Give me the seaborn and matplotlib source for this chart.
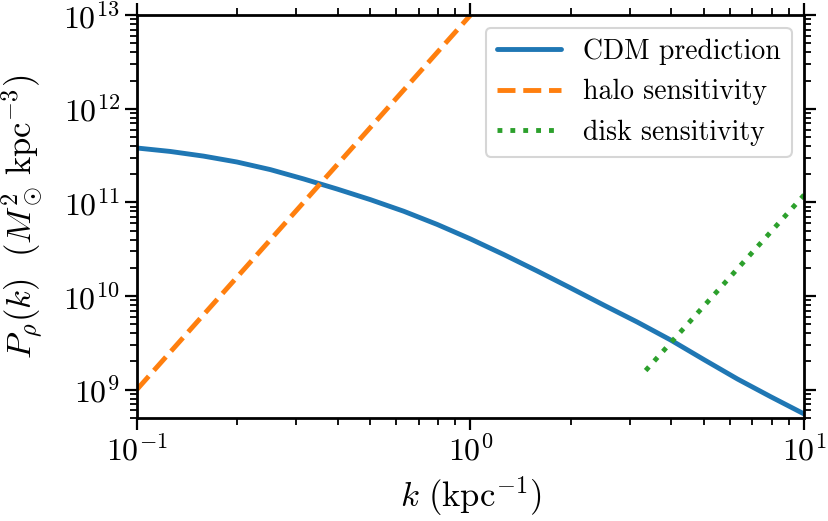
import numpy as np
import pandas as pd
import matplotlib
matplotlib.use('Agg')
import matplotlib.pyplot as plt
import seaborn as sns

# CDM prediction
cdm_k = [0.1, 0.1259, 0.1585, 0.1995, 0.2512, 0.3162, 0.3981, 0.5012,
         0.631, 0.7943, 1.0, 1.259, 1.585, 1.995, 2.512, 3.162, 3.981,
         5.012, 6.31, 7.943, 10.0]
cdm_p = [3.81e11, 3.50e11, 3.12e11, 2.70e11, 2.24e11, 1.78e11, 1.39e11,
         1.07e11, 8.04e10, 5.82e10, 4.07e10, 2.77e10, 1.85e10, 1.22e10,
         7.98e9, 5.27e9, 3.39e9, 2.09e9, 1.30e9, 8.4e8, 5.5e8]

# sensitivity curves (straight lines in log-log)
halo_k = [0.1, 1.0]
halo_p = [1.0e9, 1.0e13]
disk_k = [3.35, 10.0]
disk_p = [1.6e9, 1.2e11]

sns.set_style('ticks')
plt.rcParams['font.family'] = 'serif'
plt.rcParams['font.serif'] = ['cmr10', 'DejaVu Serif']
plt.rcParams['mathtext.fontset'] = 'cm'
plt.rcParams['axes.formatter.use_mathtext'] = True
plt.rcParams['axes.unicode_minus'] = False
for key in ['text.color', 'axes.labelcolor', 'xtick.color', 'ytick.color',
            'axes.edgecolor']:
    plt.rcParams[key] = 'black'

fig = plt.figure(figsize=(8.29, 5.21), dpi=100)
ax = fig.add_axes([0.165, 0.198, 0.805, 0.773])

colors = sns.color_palette('tab10')
sns.lineplot(data=pd.DataFrame({'k': cdm_k, 'p': cdm_p}), x='k', y='p', ax=ax,
             color=colors[0], lw=3.5, label='CDM prediction')
sns.lineplot(data=pd.DataFrame({'k': halo_k, 'p': halo_p}), x='k', y='p', ax=ax,
             color=colors[1], lw=3.5, ls='--', label='halo sensitivity')
sns.lineplot(data=pd.DataFrame({'k': disk_k, 'p': disk_p}), x='k', y='p', ax=ax,
             color=colors[2], lw=3.5, ls=':', label='disk sensitivity')

ax.set_xscale('log')
ax.set_yscale('log')
ax.set_xlim(0.1, 10)
ax.set_ylim(5e8, 1e13)

ax.set_xlabel(r'$k\ (\mathrm{kpc}^{-1})$', fontsize=25, labelpad=6)
ax.set_ylabel(r'$P_\rho(k)\ \ (M_\odot^2\,\mathrm{kpc}^{-3})$', fontsize=25,
              labelpad=13)

for s in ax.spines.values():
    s.set_linewidth(2.0)
    s.set_visible(True)
ax.tick_params(which='both', direction='out', top=True, right=True,
               labelsize=23)
ax.tick_params(which='major', length=8.5, width=1.6)
ax.tick_params(which='minor', length=5, width=1.3)

leg = ax.legend(loc='upper right', fontsize=20, frameon=True, fancybox=True,
                framealpha=0.8, edgecolor='#cccccc', handlelength=2.3,
                labelspacing=0.5, borderaxespad=0.45)
leg.get_frame().set_linewidth(1.5)

fig.savefig('out.png', dpi=100)
